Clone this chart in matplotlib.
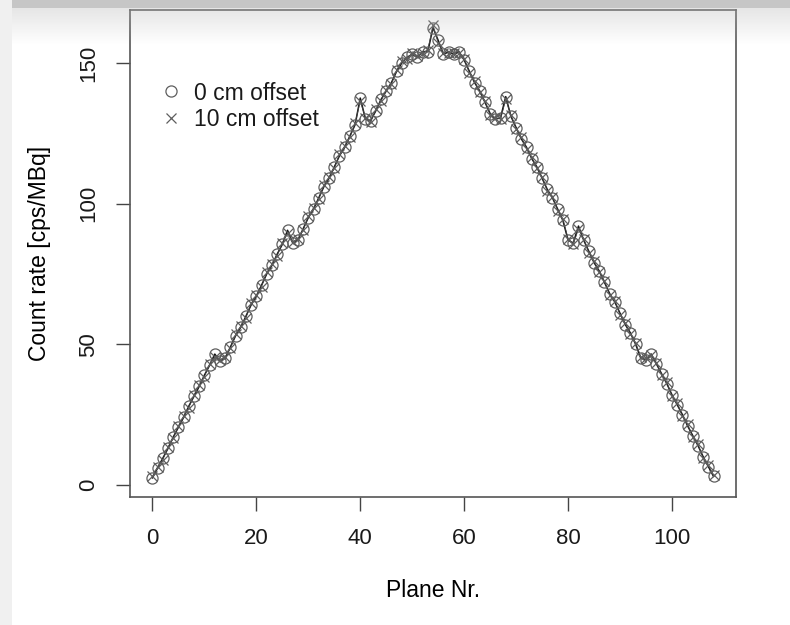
import matplotlib
matplotlib.use("Agg")
import matplotlib.pyplot as plt
import numpy as np
from matplotlib.patches import Rectangle

plane = list(range(0, 109))

offset_0cm = [2.5, 6, 9.5, 13, 17, 20.5, 24, 28, 31.5, 35, 39, 42.5, 46.5, 44, 45,
              49, 53, 56, 60, 64, 67, 71, 75, 78, 82, 85.5, 90.5, 86, 87, 91, 95,
              98, 102, 106, 109, 113, 117, 120, 124, 128, 137.5, 130, 129.5, 133,
              137, 140, 143, 147, 150, 152, 153, 152, 154, 154, 162.5,
              158, 153, 154, 153, 154, 151, 147, 143, 140, 136, 132, 130, 130.5,
              138, 131, 127, 123, 120, 116, 113, 109, 105, 102, 98, 94, 87, 86,
              92, 87, 83, 79, 76, 72, 68, 65, 61, 57, 54, 50, 45, 44.5, 46.5, 43,
              39.5, 36, 32, 28.5, 25, 21, 17.5, 14, 10, 6.5, 3]

offset_10cm = [3, 6.5, 9, 13.5, 16.5, 21, 24.5, 27.5, 32, 35.5, 38.5, 43, 45.5, 44.5, 45.5,
               48.5, 53.5, 56.5, 59.5, 64.5, 67.5, 70.5, 75.5, 78.5, 81.5, 86, 89.5, 86.5, 87.5, 90.5, 95.5,
               98.5, 101.5, 106.5, 109.5, 112.5, 117.5, 120.5, 123.5, 128.5, 136.5, 130.5, 129, 133.5,
               136.5, 140.5, 142.5, 147.5, 150.5, 151.5, 153.5, 152.5, 153.5, 154.5, 163.5,
               157, 153.5, 153.5, 153.5, 153.5, 151.5, 146.5, 143.5, 139.5, 136.5, 131.5, 130.5, 130,
               137, 131.5, 126.5, 123.5, 119.5, 116.5, 112.5, 109.5, 104.5, 102.5, 97.5, 94.5, 87.5, 85.5,
               91, 87.5, 82.5, 79.5, 75.5, 72.5, 67.5, 65.5, 60.5, 57.5, 53.5, 50.5, 45.5, 45, 46, 43.5,
               39, 36.5, 31.5, 29, 24.5, 21.5, 17, 14.5, 9.5, 7, 3.5]

x_ticks = [0, 20, 40, 60, 80, 100]
y_ticks = [0, 50, 100, 150]
legend_labels = ["0 cm offset", "10 cm offset"]

plt.rcParams['font.family'] = ['Liberation Sans', 'DejaVu Sans']
plt.rcParams['text.color'] = '#1a1a1a'

W, H = 790, 625
fig = plt.figure(figsize=(W / 100, H / 100), dpi=100)
fig.patch.set_facecolor('white')

ax = fig.add_axes([130 / W, 1 - 497 / H, (736 - 130) / W, (497 - 10) / H])

mc = '#5e5e5e'
ax.plot(plane, offset_0cm, color='#111111', lw=1.1, zorder=3)
ax.plot(plane, offset_10cm, color='#444444', lw=0.6, zorder=3)
ax.plot(plane, offset_0cm, linestyle='none', marker='o', markersize=8,
        markerfacecolor='none', markeredgecolor=mc, markeredgewidth=0.9,
        label=legend_labels[0], zorder=4)
ax.plot(plane, offset_10cm, linestyle='none', marker='x', markersize=7,
        color=mc, markeredgewidth=0.9, label=legend_labels[1], zorder=4)

ax.set_xlim(-4.32, 112.32)
ax.set_ylim(-4.3, 168.8)
ax.set_xticks(x_ticks)
ax.set_yticks(y_ticks)
ax.set_yticklabels([str(v) for v in y_ticks], rotation=90, va='center')
ax.tick_params(axis='both', labelsize=16, length=10, width=1.0, color='#444444',
               labelcolor='#1a1a1a', direction='out', pad=12)
for sp in ax.spines.values():
    sp.set_color('#555555')
    sp.set_linewidth(1.2)

ax.set_xlabel('Plane Nr.', fontsize=16.5, labelpad=22)
ax.set_ylabel('Count rate [cps/MBq]', fontsize=16.5, labelpad=20)

leg = ax.legend(loc='upper left', bbox_to_anchor=(0.038, 0.872), frameon=False,
                fontsize=16.5, handlelength=0.8, handletextpad=0.6,
                labelspacing=0.15, borderaxespad=0)

# screenshot artefacts: top shadow band and left strip
fig.patches.append(Rectangle((0, 0), 12 / W, 1, transform=fig.transFigure,
                             facecolor='#f0f0f0', edgecolor='none', zorder=10))
fig.patches.append(Rectangle((12 / W, 1 - 8 / H), 1, 8 / H, transform=fig.transFigure,
                             facecolor='#c6c6c6', edgecolor='none', zorder=10))
ov = fig.add_axes([12 / W, 1 - 45 / H, 1 - 12 / W, 37 / H], zorder=20)
ov.set_axis_off()
grad = np.linspace(0.35, 0.0, 50).reshape(-1, 1)
rgba = np.zeros((50, 1, 4))
rgba[..., :3] = 0.72
rgba[..., 3] = grad
ov.imshow(rgba, aspect='auto', extent=[0, 1, 0, 1], origin='upper')

fig.savefig('out.png', dpi=100)
